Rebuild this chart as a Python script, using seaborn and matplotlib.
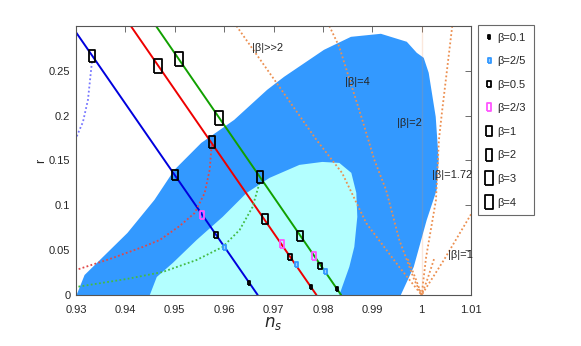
import numpy as np
import seaborn as sns
import matplotlib.pyplot as plt
from matplotlib.lines import Line2D

sns.set_style("white")
plt.rcParams['font.family'] = ['Liberation Sans Narrow', 'Liberation Sans', 'DejaVu Sans']

# -----------------------------
# Data
# -----------------------------
# 95% region (dark blue) outline
c95_ns = [0.93012, 0.93174, 0.94042, 0.94588, 0.94992, 0.95537, 0.96204, 0.96871, 0.97214,
          0.98022, 0.98568, 0.99174, 0.99699, 0.99901, 1.00042, 1.00143, 1.00285, 1.00345,
          1.00305, 1.00103, 0.99840, 0.99578]
c95_r = [0.0, 0.0223, 0.0692, 0.1060, 0.1395, 0.1696, 0.1953, 0.2288, 0.2433,
         0.2734, 0.2879, 0.2913, 0.2824, 0.2701, 0.2645, 0.2478, 0.1987, 0.1507,
         0.1172, 0.0837, 0.0313, 0.0]

# 68% region (light cyan) outline
c68_ns = [0.94495, 0.94636, 0.94960, 0.95444, 0.95970, 0.96455, 0.96919, 0.97525, 0.97990,
          0.98333, 0.98576, 0.98677, 0.98697, 0.98636, 0.98535, 0.98333]
c68_r = [0.0, 0.0201, 0.0357, 0.0614, 0.0871, 0.1138, 0.1306, 0.1451, 0.1484,
         0.1473, 0.1362, 0.1138, 0.0871, 0.0536, 0.0313, 0.0]

# three model lines (end points)
line_ns = {'blue': [0.9300, 0.9668], 'red': [0.9411, 0.9787], 'green': [0.9462, 0.9837]}
line_r = {'blue': [0.293, 0.0], 'red': [0.300, 0.0], 'green': [0.300, 0.0]}

# beta markers along each line
betas = ['0.1', '2/5', '0.5', '2/3', '1', '2', '3', '4']
mk_ns = {
    'blue': [0.96495, 0.95990, 0.95828, 0.95545, 0.95000, 0.93323, None, None],
    'red': [0.97768, 0.97465, 0.97343, 0.97162, 0.96818, 0.95747, 0.94657, None],
    'green': [0.98293, 0.98051, 0.97950, 0.97828, 0.97545, 0.96717, 0.95889, 0.95081],
}
mk_r = {
    'blue': [0.0134, 0.0536, 0.0670, 0.0893, 0.1339, 0.2667, None, None],
    'red': [0.0089, 0.0346, 0.0424, 0.0569, 0.0848, 0.1708, 0.2556, None],
    'green': [0.0067, 0.0268, 0.0324, 0.0435, 0.0658, 0.1317, 0.1975, 0.2634],
}

# dotted curves leaving the lines
dot_ns = {
    'blue': [0.93323, 0.93242, 0.93141, 0.93000],
    'red': [0.95747, 0.95707, 0.95606, 0.95404, 0.95101, 0.94697, 0.94354, 0.93687, 0.93000],
    'green': [0.96717, 0.96576, 0.96313, 0.95970, 0.95444, 0.94758, 0.94030, 0.93000],
}
dot_r = {
    'blue': [0.2600, 0.2176, 0.1930, 0.1750],
    'red': [0.1670, 0.1395, 0.1138, 0.0915, 0.0770, 0.0614, 0.0536, 0.0402, 0.0279],
    'green': [0.1250, 0.0982, 0.0725, 0.0536, 0.0391, 0.0257, 0.0179, 0.0089],
}

# |beta| curves (orange dotted)
beta_ns = [
    [0.9625, 0.9712, 0.9787, 0.9839, 0.9888, 0.9955, 1.0000],
    [0.9813, 0.9833, 0.9880, 0.9904, 0.9928, 0.9955, 0.9985, 1.0000],
    [1.0000, 1.0000],
    [1.0062, 1.0041, 1.0035, 1.0029, 1.0009, 1.0000],
    [1.0100, 1.0045, 1.0000],
    [0.9972, 0.9988, 1.0000],
    [1.0025, 1.0012, 1.0000],
]
beta_r = [
    [0.300, 0.232, 0.173, 0.136, 0.080, 0.031, 0.0],
    [0.300, 0.277, 0.195, 0.151, 0.117, 0.061, 0.017, 0.0],
    [0.300, 0.0],
    [0.300, 0.203, 0.173, 0.106, 0.042, 0.0],
    [0.090, 0.039, 0.0],
    [0.040, 0.018, 0.0],
    [0.040, 0.018, 0.0],
]
beta_labels = ['|β|>>2', '|β|=4', '|β|=2', '|β|=1.72', '|β|=1']
label_ns = [0.9688, 0.9870, 0.9975, 1.0061, 1.0078]
label_r = [0.276, 0.238, 0.192, 0.134, 0.045]

# -----------------------------
# Plot
# -----------------------------
fig = plt.figure(figsize=(5.81, 3.46), dpi=100)
ax = fig.add_axes([0.1308, 0.1474, 0.6799, 0.7775])

ax.fill(c95_ns, c95_r, color='#3399ff', lw=0)
ax.fill(c68_ns, c68_r, color='#b3ffff', lw=0)

for xs, ys in zip(beta_ns, beta_r):
    sns.lineplot(x=xs, y=ys, sort=False, color='#ec8f50', ls=(0, (1, 1.3)), lw=1.3, ax=ax)
for t, x, y in zip(beta_labels, label_ns, label_r):
    ax.text(x, y, t, fontsize=8, ha='center', va='center')

dot_col = {'blue': '#7777ff', 'red': '#e04848', 'green': '#44bb44'}
line_col = {'blue': '#0000dd', 'red': '#ee0000', 'green': '#11a000'}
for k in ['blue', 'red', 'green']:
    sns.lineplot(x=dot_ns[k], y=dot_r[k], sort=False, color=dot_col[k], ls=(0, (1, 1.3)), lw=1.3, ax=ax)
    sns.lineplot(x=line_ns[k], y=line_r[k], sort=False, color=line_col[k], lw=1.4, ax=ax)

# marker styles per beta
rect = [(-0.6, -1), (0.6, -1), (0.6, 1), (-0.6, 1), (-0.6, -1)]
ms = [2.6, 3.6, 4.4, 5.2, 7.2, 8.0, 9.4, 10.2]
edge = ['black', '#3399ff', 'black', '#ff55ff', 'black', 'black', 'black', 'black']
face = ['#333333', '#99ccff', 'none', 'none', 'none', 'none', 'none', 'none']

handles = []
for i, b in enumerate(betas):
    xs = [mk_ns[k][i] for k in mk_ns if mk_ns[k][i] is not None]
    ys = [mk_r[k][i] for k in mk_r if mk_r[k][i] is not None]
    ax.plot(xs, ys, ls='none', marker=rect, ms=ms[i], mec=edge[i], mfc=face[i], mew=1.3, zorder=5)
    handles.append(Line2D([], [], ls='none', marker=rect, ms=ms[i], mec=edge[i], mfc=face[i],
                          mew=1.3, label='β=' + b))

ax.set_xlim(0.93, 1.01)
ax.set_ylim(0, 0.3)
ax.set_xticks(np.arange(0.93, 1.0101, 0.01))
ax.set_xticklabels(['0.93', '0.94', '0.95', '0.96', '0.97', '0.98', '0.99', '1', '1.01'])
ax.set_yticks([0, 0.05, 0.1, 0.15, 0.2, 0.25])
ax.set_yticklabels(['0', '0.05', '0.1', '0.15', '0.2', '0.25'])
ax.tick_params(direction='in', length=4, width=0.6, top=True, right=True, labelsize=8,
               color='#555555')
ax.tick_params(axis='x', pad=7)
ax.tick_params(axis='y', pad=4)
for s in ax.spines.values():
    s.set_linewidth(0.8)
    s.set_color('#555555')
ax.set_xlabel('$n_s$', fontsize=12, labelpad=0)
ax.set_ylabel('r', fontsize=9)
ax.yaxis.set_label_coords(-0.072, 0.5)

leg = fig.legend(handles=handles, loc='upper left', bbox_to_anchor=(0.822, 0.928),
                 borderaxespad=0, fontsize=8, frameon=True, fancybox=False, edgecolor='#444444',
                 handlelength=0.7, handletextpad=0.4, labelspacing=1.22, borderpad=0.7)
leg.get_frame().set_linewidth(0.8)

plt.savefig('out.png', dpi=100)
